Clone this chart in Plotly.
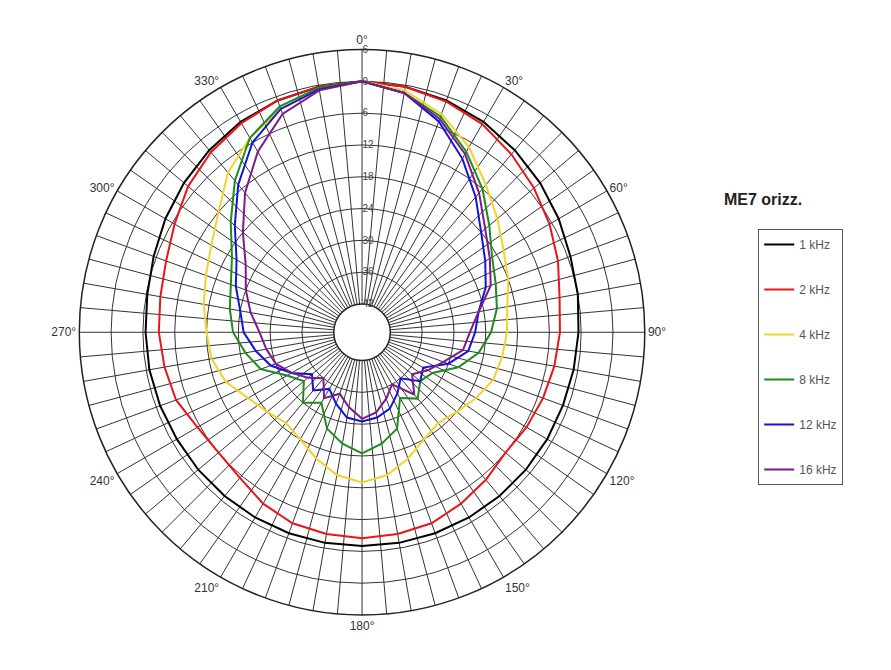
import plotly.graph_objects as go

# polar response of the ME7 (horizontal), dB vs angle, every 10 degrees
angles = list(range(0, 360, 10))

db_1k = [0, -0.3, -0.8, -1.5, -2.5, -3.5, -4.5, -5.5, -6, -6.5, -6.8, -7, -7, -7, -7, -7, -7, -7,
         -7, -7, -7, -7, -7, -7, -7, -6.8, -6.6, -6.5, -6.2, -5.5, -4.5, -3.5, -2.5, -1.5, -0.8, -0.3]
db_2k = [0, -0.3, -1, -2, -3.5, -5, -6.5, -8, -9.5, -10, -10.5, -11, -11.5, -12, -11, -10, -9, -8.7,
         -8.5, -8.7, -9, -10, -11.5, -12, -11.5, -10, -9.5, -9, -8.7, -8, -6.5, -4.5, -3, -1.8, -0.8, -0.3]
db_4k = [0, -1, -3.5, -7, -11, -14, -16.5, -18, -19.5, -20, -20.5, -21, -22.5, -24, -25, -24, -22, -20,
         -19, -20, -22, -24, -25, -24, -22.5, -20, -18.5, -18, -17, -16, -14.5, -12, -8, -5, -2.5, -0.8]
db_8k = [0, -1.5, -4, -8, -12, -16, -19, -20.5, -21.5, -23, -25, -28, -32, -33, -31, -33, -28, -26,
         -24.5, -26, -28, -32, -30, -33, -31, -27, -25, -23, -22, -21, -19, -15, -10, -5, -2, -0.5]
db_12k = [0, -1.5, -5, -9.5, -14, -18, -20.5, -22.5, -25, -26, -27, -30, -34, -33, -36, -34, -32, -31,
          -30.5, -31, -33, -35, -33, -35, -32, -29, -27, -25, -24, -22, -20, -16, -11, -6, -2.5, -0.8]
db_16k = [0, -1.5, -4.5, -8.5, -13, -17, -19.5, -21.5, -25, -27, -28, -31, -33, -35, -32, -36, -34, -32,
          -31, -33, -35, -33, -36, -34, -32, -30, -29, -28, -26, -24, -22, -18, -13, -8, -3.5, -1]

series = [("1 kHz", db_1k, "#000000"), ("2 kHz", db_2k, "#e8161b"), ("4 kHz", db_4k, "#f5d130"),
          ("8 kHz", db_8k, "#1f8a1f"), ("12 kHz", db_12k, "#1414d6"), ("16 kHz", db_16k, "#7d1a8c")]

r_ticks = [6, 0, -6, -12, -18, -24, -30, -36, -42]
theta_ticks = list(range(0, 360, 5))
theta_text = [f"{a}°" if a % 30 == 0 else "" for a in theta_ticks]

fig = go.Figure()
for name, vals, col in series:
    fig.add_trace(go.Scatterpolar(r=vals + vals[:1], theta=angles + [360], mode="lines",
                                  name=name, legendgroup=name, line=dict(color=col, width=2)))

fig.update_layout(
    width=891, height=670, paper_bgcolor="white", plot_bgcolor="white",
    margin=dict(l=0, r=0, t=0, b=0),
    font=dict(family="Liberation Sans, Arial", color="#333"),
    polar=dict(
        domain=dict(x=[0.0797, 0.715], y=[0.094, 0.938]),
        hole=0.1, bgcolor="white",
        radialaxis=dict(range=[-42, 6], tickvals=r_ticks, ticktext=[str(abs(v)) for v in r_ticks],
                        angle=90, tickangle=90, gridcolor="#333", gridwidth=0.8, showline=False,
                        ticks="", tickfont=dict(size=10, color="#444")),
        angularaxis=dict(direction="clockwise", rotation=90, tickmode="array",
                         tickvals=theta_ticks, ticktext=theta_text, gridcolor="#333", gridwidth=0.8,
                         linecolor="#222", linewidth=1.5, ticks="",
                         tickfont=dict(size=12, color="#333")),
    ),
    legend=dict(x=0.842, y=0.67, xanchor="left", yanchor="top", bordercolor="#555", borderwidth=1,
                bgcolor="white", font=dict(size=12, color="#555"), tracegroupgap=26,
                itemwidth=30),
    annotations=[dict(text="<b>ME7 orizz.</b>", x=0.893, y=0.73, xref="paper", yref="paper",
                      showarrow=False, font=dict(size=16, color="#222"))],
)

fig.write_html("out.html")
